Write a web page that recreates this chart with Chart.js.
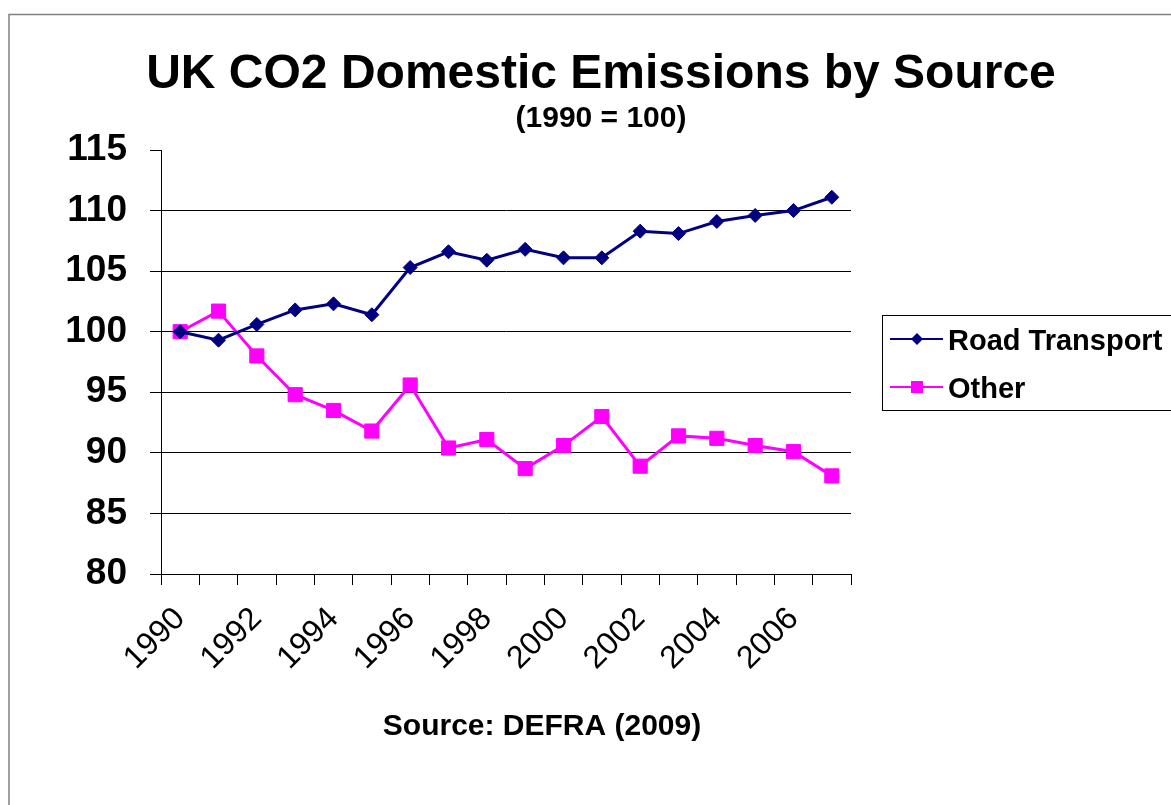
<!DOCTYPE html>
<html lang="en">
  <head>
    <meta charset="UTF-8" />
    <title>UK CO2 Domestic Emissions by Source</title>
    <script src="https://cdn.jsdelivr.net/npm/chart.js"></script>
    <style>
      body { margin: 0; background: #fff; overflow: hidden; }
    </style>
  </head>
  <body>
    <canvas id="emissionsChart" width="1171" height="805"></canvas>

    <script>
      const years = ["1990", "1991", "1992", "1993", "1994", "1995", "1996", "1997", "1998",
        "1999", "2000", "2001", "2002", "2003", "2004", "2005", "2006", "2007"];
      const roadTransport = [100, 99.3, 100.6, 101.8, 102.3, 101.4, 105.3, 106.6, 105.9,
        106.8, 106.1, 106.1, 108.3, 108.1, 109.1, 109.6, 110.0, 111.1];
      const other = [100, 101.7, 98.0, 94.8, 93.5, 91.8, 95.6, 90.4, 91.1,
        88.7, 90.6, 93.0, 88.9, 91.4, 91.2, 90.6, 90.1, 88.1];

      const FONT = "Arial, 'Liberation Sans', sans-serif";
      const NAVY = "#000080";
      const PINK = "#FF00FF";

      // titles, source note, outer frame and the boxed legend
      const decorations = {
        id: "decorations",
        beforeDraw(chart) {
          const ctx = chart.ctx;
          ctx.save();
          ctx.strokeStyle = "#808080";
          ctx.lineWidth = 1.5;
          ctx.beginPath();
          ctx.moveTo(9, 900);
          ctx.lineTo(9, 14.5);
          ctx.lineTo(1300, 14.5);
          ctx.stroke();
          ctx.restore();
        },
        afterDraw(chart) {
          const ctx = chart.ctx;
          ctx.save();
          ctx.fillStyle = "#000";
          ctx.textAlign = "center";
          ctx.textBaseline = "alphabetic";
          ctx.font = "bold 48px " + FONT;
          ctx.fillText("UK CO2 Domestic Emissions by Source", 601, 88);
          ctx.font = "bold 30px " + FONT;
          ctx.fillText("(1990 = 100)", 601, 127);
          ctx.fillText("Source: DEFRA (2009)", 542, 735);

          // legend
          ctx.strokeStyle = "#000";
          ctx.lineWidth = 1;
          ctx.strokeRect(882.5, 315.5, 400, 95);
          ctx.textAlign = "left";
          ctx.font = "bold 29px " + FONT;
          const rows = [
            { label: "Road Transport", color: NAVY, y: 339, style: "diamond" },
            { label: "Other", color: PINK, y: 387, style: "square" },
          ];
          rows.forEach((r) => {
            ctx.strokeStyle = r.color;
            ctx.fillStyle = r.color;
            ctx.lineWidth = 2;
            ctx.beginPath();
            ctx.moveTo(890, r.y);
            ctx.lineTo(943, r.y);
            ctx.stroke();
            ctx.beginPath();
            if (r.style === "diamond") {
              ctx.moveTo(917, r.y - 6);
              ctx.lineTo(923, r.y);
              ctx.lineTo(917, r.y + 6);
              ctx.lineTo(911, r.y);
              ctx.closePath();
              ctx.fill();
            } else {
              ctx.fillRect(911, r.y - 6, 12, 12);
            }
            ctx.fillStyle = "#000";
            ctx.fillText(r.label, 948, r.y + 11);
          });
          ctx.restore();
        },
      };

      const config = {
        type: "line",
        data: {
          labels: years,
          datasets: [
            {
              label: "Road Transport",
              data: roadTransport,
              borderColor: NAVY,
              backgroundColor: NAVY,
              borderWidth: 3,
              pointStyle: "rectRot",
              pointRadius: 7,
              pointBorderWidth: 1,
              tension: 0,
              fill: false,
            },
            {
              label: "Other",
              data: other,
              borderColor: PINK,
              backgroundColor: PINK,
              borderWidth: 3,
              pointStyle: "rect",
              pointRadius: 10,
              pointBorderWidth: 1,
              tension: 0,
              fill: false,
            },
          ],
        },
        options: {
          responsive: false,
          animation: false,
          layout: { padding: { top: 150, right: 320, bottom: 0, left: 0 } },
          plugins: {
            legend: { display: false },
            title: { display: false },
            tooltip: { enabled: false },
          },
          scales: {
            x: {
              offset: true,
              afterFit(scale) { scale.height = 231; },
              grid: { offset: true, drawOnChartArea: false, tickLength: 11, color: "#000" },
              border: { color: "#000", width: 1 },
              ticks: {
                autoSkip: false,
                minRotation: 45,
                maxRotation: 45,
                padding: 15,
                color: "#000",
                font: { family: FONT, size: 32 },
                callback(value, index) {
                  return index % 2 === 0 ? this.getLabelForValue(value) : "";
                },
              },
            },
            y: {
              min: 80,
              max: 115,
              afterFit(scale) { scale.width = 161; },
              grid: {
                tickLength: 11,
                tickColor: "#000",
                color: (ctx) => (ctx.tick && ctx.tick.value === 115 ? "rgba(0,0,0,0)" : "#000"),
              },
              border: { color: "#000", width: 1 },
              ticks: {
                stepSize: 5,
                padding: 23,
                color: "#000",
                font: { family: FONT, size: 37, weight: "bold" },
              },
            },
          },
        },
        plugins: [decorations],
      };

      new Chart(document.getElementById("emissionsChart"), config);
    </script>
  </body>
</html>
